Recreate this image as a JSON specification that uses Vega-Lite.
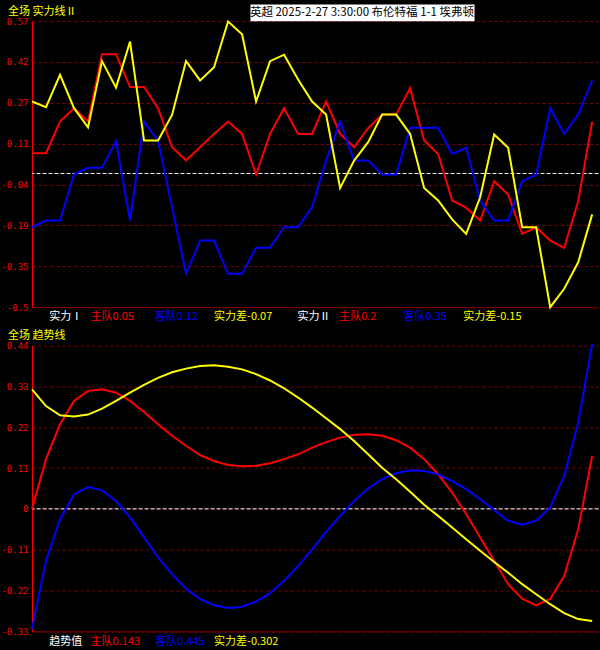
{
  "$schema": "https://vega.github.io/schema/vega-lite/v6.json",
  "background": "#000000",
  "padding": {"left": 0, "top": 4, "right": 2, "bottom": 4},
  "bounds": "flush",
  "spacing": 37.6,
  "config": {
    "view": {"stroke": null},
    "font": "Noto Sans CJK SC",
    "axisX": {"domain": true, "domainColor": "#800000", "ticks": false, "labels": false, "grid": false, "title": null},
    "axisY": {"domain": true, "domainColor": "#ff0000", "ticks": false, "grid": true, "gridColor": "#800000", "gridDash": [3, 3], "labelColor": "#ff0000", "labelFont": "DejaVu Sans Mono", "labelFontSize": 9, "labelPadding": 4, "labelFlush": false, "labelOverlap": false, "title": null}
  },
  "datasets": {
    "strength": [
      {"i": 0, "主队": 0.076, "客队": -0.201, "实力差": 0.269},
      {"i": 1, "主队": 0.076, "客队": -0.176, "实力差": 0.248},
      {"i": 2, "主队": 0.194, "客队": -0.176, "实力差": 0.369},
      {"i": 3, "主队": 0.244, "客队": -0.004, "实力差": 0.244},
      {"i": 4, "主队": 0.194, "客队": 0.021, "实力差": 0.172},
      {"i": 5, "主队": 0.446, "客队": 0.021, "实力差": 0.420},
      {"i": 6, "主队": 0.446, "客队": 0.120, "实力差": 0.321},
      {"i": 7, "主队": 0.323, "客队": -0.176, "实力差": 0.493},
      {"i": 8, "主队": 0.323, "客队": 0.194, "实力差": 0.123},
      {"i": 9, "主队": 0.244, "客队": 0.123, "实力差": 0.123},
      {"i": 10, "主队": 0.098, "客队": -0.126, "实力差": 0.219},
      {"i": 11, "主队": 0.049, "客队": -0.375, "实力差": 0.420},
      {"i": 12, "主队": 0.098, "客队": -0.251, "实力差": 0.348},
      {"i": 13, "主队": 0.148, "客队": -0.251, "实力差": 0.397},
      {"i": 14, "主队": 0.194, "客队": -0.375, "实力差": 0.568},
      {"i": 15, "主队": 0.148, "客队": -0.375, "实力差": 0.520},
      {"i": 16, "主队": -0.004, "客队": -0.278, "实力差": 0.269},
      {"i": 17, "主队": 0.148, "客队": -0.278, "实力差": 0.420},
      {"i": 18, "主队": 0.244, "客队": -0.201, "实力差": 0.444},
      {"i": 19, "主队": 0.148, "客队": -0.201, "实力差": 0.351},
      {"i": 20, "主队": 0.148, "客队": -0.126, "实力差": 0.269},
      {"i": 21, "主队": 0.269, "客队": 0.048, "实力差": 0.220},
      {"i": 22, "主队": 0.148, "客队": 0.194, "实力差": -0.054},
      {"i": 23, "主队": 0.098, "客队": 0.048, "实力差": 0.048},
      {"i": 24, "主队": 0.169, "客队": 0.048, "实力差": 0.117},
      {"i": 25, "主队": 0.220, "客队": -0.004, "实力差": 0.220},
      {"i": 26, "主队": 0.220, "客队": -0.004, "实力差": 0.220},
      {"i": 27, "主队": 0.319, "客队": 0.171, "实力差": 0.148},
      {"i": 28, "主队": 0.123, "客队": 0.171, "实力差": -0.054},
      {"i": 29, "主队": 0.073, "客队": 0.171, "实力差": -0.101},
      {"i": 30, "主队": -0.101, "客队": 0.073, "实力差": -0.172},
      {"i": 31, "主队": -0.128, "客队": 0.096, "实力差": -0.226},
      {"i": 32, "主队": -0.176, "客队": -0.101, "实力差": -0.089},
      {"i": 33, "主队": -0.029, "客队": -0.176, "实力差": 0.146},
      {"i": 34, "主队": -0.079, "客队": -0.176, "实力差": 0.096},
      {"i": 35, "主队": -0.226, "客队": -0.029, "实力差": -0.201},
      {"i": 36, "主队": -0.201, "客队": -0.004, "实力差": -0.201},
      {"i": 37, "主队": -0.251, "客队": 0.244, "实力差": -0.500},
      {"i": 38, "主队": -0.278, "客队": 0.148, "实力差": -0.431},
      {"i": 39, "主队": -0.104, "客队": 0.220, "实力差": -0.332},
      {"i": 40, "主队": 0.194, "客队": 0.348, "实力差": -0.153}
    ],
    "trend": [
      {"i": 0, "主队": 0.000, "客队": -0.324, "实力差": 0.322},
      {"i": 1, "主队": 0.134, "客队": -0.140, "实力差": 0.277},
      {"i": 2, "主队": 0.228, "客队": -0.028, "实力差": 0.252},
      {"i": 3, "主队": 0.291, "客队": 0.039, "实力差": 0.249},
      {"i": 4, "主队": 0.318, "客队": 0.059, "实力差": 0.254},
      {"i": 5, "主队": 0.322, "客队": 0.050, "实力差": 0.270},
      {"i": 6, "主队": 0.313, "客队": 0.021, "实力差": 0.291},
      {"i": 7, "主队": 0.291, "客队": -0.023, "实力差": 0.313},
      {"i": 8, "主队": 0.261, "客队": -0.077, "实力差": 0.334},
      {"i": 9, "主队": 0.228, "客队": -0.131, "实力差": 0.353},
      {"i": 10, "主队": 0.197, "客队": -0.176, "实力差": 0.368},
      {"i": 11, "主队": 0.170, "客队": -0.215, "实力差": 0.378},
      {"i": 12, "主队": 0.145, "客队": -0.243, "实力差": 0.385},
      {"i": 13, "主队": 0.129, "客队": -0.260, "实力差": 0.387},
      {"i": 14, "主队": 0.118, "客队": -0.267, "实力差": 0.383},
      {"i": 15, "主队": 0.115, "客队": -0.264, "实力差": 0.376},
      {"i": 16, "主队": 0.116, "客队": -0.250, "实力差": 0.363},
      {"i": 17, "主队": 0.123, "客队": -0.227, "实力差": 0.346},
      {"i": 18, "主队": 0.134, "客队": -0.194, "实力差": 0.325},
      {"i": 19, "主队": 0.147, "客队": -0.154, "实力差": 0.300},
      {"i": 20, "主队": 0.165, "客队": -0.109, "实力差": 0.273},
      {"i": 21, "主队": 0.180, "客队": -0.062, "实力差": 0.244},
      {"i": 22, "主队": 0.192, "客队": -0.019, "实力差": 0.215},
      {"i": 23, "主队": 0.200, "客队": 0.021, "实力差": 0.183},
      {"i": 24, "主队": 0.201, "客队": 0.055, "实力差": 0.147},
      {"i": 25, "主队": 0.197, "客队": 0.080, "实力差": 0.111},
      {"i": 26, "主队": 0.185, "客队": 0.096, "实力差": 0.080},
      {"i": 27, "主队": 0.165, "客队": 0.104, "实力差": 0.046},
      {"i": 28, "主队": 0.134, "客队": 0.102, "实力差": 0.011},
      {"i": 29, "主队": 0.093, "客队": 0.093, "实力差": -0.019},
      {"i": 30, "主队": 0.044, "客队": 0.075, "实力差": -0.050},
      {"i": 31, "主队": -0.014, "客队": 0.053, "实力差": -0.082},
      {"i": 32, "主队": -0.077, "客队": 0.026, "实力差": -0.113},
      {"i": 33, "主队": -0.140, "客队": -0.003, "实力差": -0.143},
      {"i": 34, "主队": -0.203, "客队": -0.032, "实力差": -0.172},
      {"i": 35, "主队": -0.242, "客队": -0.043, "实力差": -0.203},
      {"i": 36, "主队": -0.260, "客队": -0.032, "实力差": -0.230},
      {"i": 37, "主队": -0.243, "客队": 0.004, "实力差": -0.257},
      {"i": 38, "主队": -0.181, "客队": 0.089, "实力差": -0.281},
      {"i": 39, "主队": -0.055, "客队": 0.232, "实力差": -0.297},
      {"i": 40, "主队": 0.143, "客队": 0.445, "实力差": -0.302}
    ]
  },
  "vconcat": [
    {
      "width": 566.5,
      "height": 286.2,
      "layer": [
        {
          "data": {"values": [{}]},
          "mark": {"type": "rule", "color": "#ffffff", "strokeDash": [4, 2], "strokeWidth": 1},
          "encoding": {"y": {"datum": 0, "type": "quantitative"}}
        },
        {
          "data": {"name": "strength"},
          "transform": [{"fold": ["主队", "客队", "实力差"], "as": ["team", "value"]}],
          "mark": {"type": "line", "strokeWidth": 2},
          "encoding": {
            "x": {"field": "i", "type": "quantitative", "scale": {"domain": [0, 40.45], "nice": false, "zero": false}},
            "y": {"field": "value", "type": "quantitative", "scale": {"domain": [-0.5, 0.57], "nice": false, "zero": false},
                  "axis": {"values": [-0.5, -0.347143, -0.194286, -0.041429, 0.111429, 0.264286, 0.417143, 0.57],
                           "labelExpr": "['-0.5','-0.35','-0.19','-0.04','0.11','0.27','0.42','0.57'][round((datum.value+0.5)/0.152857)]"}},
            "color": {"field": "team", "type": "nominal", "scale": {"domain": ["主队", "客队", "实力差"], "range": ["#ff0000", "#0000ff", "#ffff00"]}, "legend": null}
          }
        },
        {"data": {"values": [{}]}, "mark": {"type": "text", "color": "#ffff00", "fontSize": 11, "align": "left", "baseline": "middle"},
         "encoding": {"x": {"datum": -1.72, "type": "quantitative"}, "y": {"datum": 0.6045, "type": "quantitative"}, "text": {"value": "全场 实力线Ⅱ"}}},
        {
          "data": {"values": [{}]},
          "mark": {"type": "rect", "color": "#ffffff"},
          "encoding": {"x": {"datum": 15.6, "type": "quantitative"}, "x2": {"datum": 31.6}, "y": {"datum": 0.6317, "type": "quantitative"}, "y2": {"datum": 0.5693}}
        },
        {
          "data": {"values": [{}]},
          "mark": {"type": "text", "color": "#000000", "fontSize": 11.5, "align": "center", "baseline": "middle"},
          "encoding": {"x": {"datum": 23.56, "type": "quantitative"}, "y": {"datum": 0.5992, "type": "quantitative"}, "text": {"value": "英超 2025-2-27 3:30:00 布伦特福 1-1 埃弗顿"}}
        },
        {"data": {"values": [{}]}, "mark": {"type": "text", "color": "#ffffff", "fontSize": 11, "align": "left", "baseline": "middle"},
         "encoding": {"x": {"datum": 1.23, "type": "quantitative"}, "y": {"datum": -0.5385, "type": "quantitative"}, "text": {"value": "实力Ⅰ"}}},
        {"data": {"values": [{}]}, "mark": {"type": "text", "color": "#ff0000", "fontSize": 11, "align": "left", "baseline": "middle"},
         "encoding": {"x": {"datum": 4.18, "type": "quantitative"}, "y": {"datum": -0.5385, "type": "quantitative"}, "text": {"value": "主队0.05"}}},
        {"data": {"values": [{}]}, "mark": {"type": "text", "color": "#0000ff", "fontSize": 11, "align": "left", "baseline": "middle"},
         "encoding": {"x": {"datum": 8.75, "type": "quantitative"}, "y": {"datum": -0.5385, "type": "quantitative"}, "text": {"value": "客队0.12"}}},
        {"data": {"values": [{}]}, "mark": {"type": "text", "color": "#ffff00", "fontSize": 11, "align": "left", "baseline": "middle"},
         "encoding": {"x": {"datum": 13.0, "type": "quantitative"}, "y": {"datum": -0.5385, "type": "quantitative"}, "text": {"value": "实力差-0.07"}}},
        {"data": {"values": [{}]}, "mark": {"type": "text", "color": "#ffffff", "fontSize": 11, "align": "left", "baseline": "middle"},
         "encoding": {"x": {"datum": 18.96, "type": "quantitative"}, "y": {"datum": -0.5385, "type": "quantitative"}, "text": {"value": "实力Ⅱ"}}},
        {"data": {"values": [{}]}, "mark": {"type": "text", "color": "#ff0000", "fontSize": 11, "align": "left", "baseline": "middle"},
         "encoding": {"x": {"datum": 21.93, "type": "quantitative"}, "y": {"datum": -0.5385, "type": "quantitative"}, "text": {"value": "主队0.2"}}},
        {"data": {"values": [{}]}, "mark": {"type": "text", "color": "#0000ff", "fontSize": 11, "align": "left", "baseline": "middle"},
         "encoding": {"x": {"datum": 26.53, "type": "quantitative"}, "y": {"datum": -0.5385, "type": "quantitative"}, "text": {"value": "客队0.35"}}},
        {"data": {"values": [{}]}, "mark": {"type": "text", "color": "#ffff00", "fontSize": 11, "align": "left", "baseline": "middle"},
         "encoding": {"x": {"datum": 30.8, "type": "quantitative"}, "y": {"datum": -0.5385, "type": "quantitative"}, "text": {"value": "实力差-0.15"}}}
      ]
    },
    {
      "width": 566.5,
      "height": 285.7,
      "layer": [
        {
          "data": {"values": [{}]},
          "mark": {"type": "rule", "color": "#ffffff", "strokeDash": [4, 2], "strokeWidth": 1},
          "encoding": {"y": {"datum": 0, "type": "quantitative"}}
        },
        {
          "data": {"name": "trend"},
          "transform": [{"fold": ["主队", "客队", "实力差"], "as": ["team", "value"]}],
          "mark": {"type": "line", "strokeWidth": 2},
          "encoding": {
            "x": {"field": "i", "type": "quantitative", "scale": {"domain": [0, 40.45], "nice": false, "zero": false}},
            "y": {"field": "value", "type": "quantitative", "scale": {"domain": [-0.33, 0.44], "nice": false, "zero": false},
                  "axis": {"values": [-0.33, -0.22, -0.11, 0, 0.11, 0.22, 0.33, 0.44],
                           "labelExpr": "['-0.33','-0.22','-0.11','0','0.11','0.22','0.33','0.44'][round((datum.value+0.33)/0.11)]"}},
            "color": {"field": "team", "type": "nominal", "scale": {"domain": ["主队", "客队", "实力差"], "range": ["#ff0000", "#0000ff", "#ffff00"]}, "legend": null}
          }
        },
        {"data": {"values": [{}]}, "mark": {"type": "text", "color": "#ffff00", "fontSize": 11, "align": "left", "baseline": "middle"},
         "encoding": {"x": {"datum": -1.72, "type": "quantitative"}, "y": {"datum": 0.4665, "type": "quantitative"}, "text": {"value": "全场 趋势线"}}},
        {"data": {"values": [{}]}, "mark": {"type": "text", "color": "#ffffff", "fontSize": 11, "align": "left", "baseline": "middle"},
         "encoding": {"x": {"datum": 1.23, "type": "quantitative"}, "y": {"datum": -0.3596, "type": "quantitative"}, "text": {"value": "趋势值"}}},
        {"data": {"values": [{}]}, "mark": {"type": "text", "color": "#ff0000", "fontSize": 11, "align": "left", "baseline": "middle"},
         "encoding": {"x": {"datum": 4.18, "type": "quantitative"}, "y": {"datum": -0.3596, "type": "quantitative"}, "text": {"value": "主队0.143"}}},
        {"data": {"values": [{}]}, "mark": {"type": "text", "color": "#0000ff", "fontSize": 11, "align": "left", "baseline": "middle"},
         "encoding": {"x": {"datum": 8.78, "type": "quantitative"}, "y": {"datum": -0.3596, "type": "quantitative"}, "text": {"value": "客队0.445"}}},
        {"data": {"values": [{}]}, "mark": {"type": "text", "color": "#ffff00", "fontSize": 11, "align": "left", "baseline": "middle"},
         "encoding": {"x": {"datum": 13.0, "type": "quantitative"}, "y": {"datum": -0.3596, "type": "quantitative"}, "text": {"value": "实力差-0.302"}}}
      ]
    }
  ]
}
